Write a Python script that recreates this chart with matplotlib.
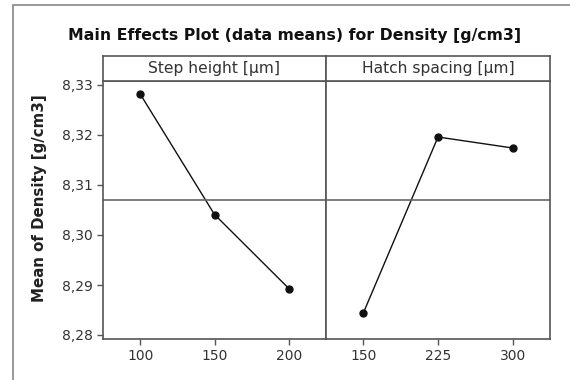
import matplotlib
matplotlib.use("Agg")
import matplotlib.pyplot as plt
from matplotlib.patches import Rectangle
from matplotlib.ticker import FuncFormatter

step_levels = ["100", "150", "200"]
step_means = [8.3282, 8.3041, 8.2893]
hatch_levels = ["150", "225", "300"]
hatch_means = [8.2844, 8.3196, 8.3174]
grand_mean = 8.3071
panel_titles = ["Step height [µm]", "Hatch spacing [µm]"]
y_ticks = [8.28, 8.29, 8.30, 8.31, 8.32, 8.33]

W, H = 570, 380
fig = plt.figure(figsize=(W / 100, H / 100), dpi=100)
plt.rcParams['font.family'] = ['DejaVu Sans']

frame_col = "#555555"
txt_col = "#333333"

def px_axes(x0, y0, x1, y1):
    # pixel box (top-left origin) -> figure axes
    return fig.add_axes([x0 / W, 1 - y1 / H, (x1 - x0) / W, (y1 - y0) / H])

# outer border
fig.patches.append(Rectangle((13 / W, -0.1), 1.2, 1 - 5 / H + 0.1, transform=fig.transFigure,
                             fill=False, edgecolor="#888888", linewidth=1.2))

left, mid, right = 103, 326, 550
strip_top, plot_top, plot_bot = 56, 81, 339

panels = [(left, mid, step_levels, step_means), (mid, right, hatch_levels, hatch_means)]
for i, (x0, x1, levels, means) in enumerate(panels):
    ax = px_axes(x0, plot_top, x1, plot_bot)
    ax.plot(range(len(levels)), means, color="#111111", linewidth=1.0,
            marker="o", markersize=5)
    ax.axhline(grand_mean, color="#666666", linewidth=1.2)
    ax.set_xlim(-0.5, len(levels) - 0.5)
    ax.set_ylim(8.2792, 8.3308)
    ax.set_xticks(range(len(levels)))
    ax.set_xticklabels(levels)
    ax.set_yticks(y_ticks)
    ax.yaxis.set_major_formatter(FuncFormatter(lambda v, p: f"{v:.2f}".replace(".", ",")))
    ax.tick_params(colors=frame_col, labelcolor=txt_col, labelsize=10, length=4, width=1)
    if i == 1:
        ax.tick_params(axis="y", left=False, labelleft=False)
    for s in ax.spines.values():
        s.set_color(frame_col)
        s.set_linewidth(1.2)
    sx = px_axes(x0, strip_top, x1, plot_top)
    sx.set_xticks([])
    sx.set_yticks([])
    for s in sx.spines.values():
        s.set_color(frame_col)
        s.set_linewidth(1.2)
    sx.text(0.5, 0.48, panel_titles[i], ha="center", va="center", fontsize=11.2,
            color=txt_col, transform=sx.transAxes)

fig.text(40 / W, 1 - 198 / H, "Mean of Density [g/cm3]", rotation=90,
         ha="center", va="center", fontsize=10.8, fontweight="bold", color="#222222")

fig.text(294.5 / W, 1 - 40 / H, "Main Effects Plot (data means) for Density [g/cm3]",
         ha="center", va="baseline", fontsize=11.3, fontweight="bold", color="#111111")

fig.savefig("out.png", dpi=100)
